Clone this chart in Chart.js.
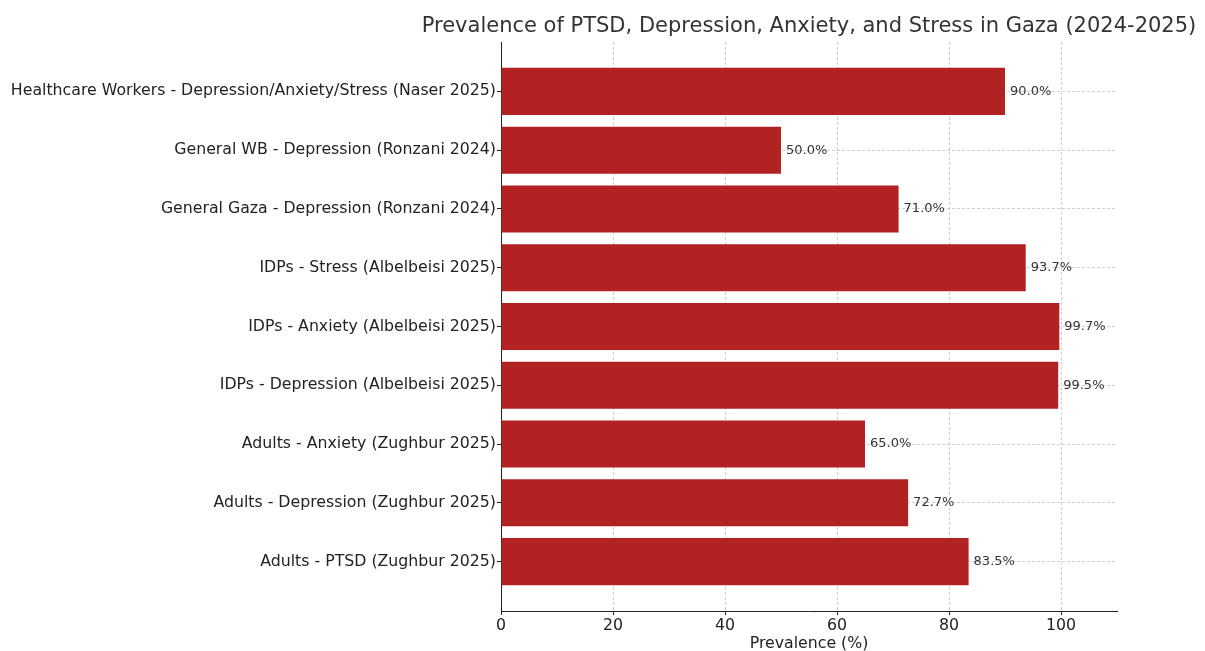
<!DOCTYPE html>
<html>
<head>
<meta charset="utf-8">
<script src="https://cdn.jsdelivr.net/npm/chart.js@4"></script>
<style>
  body { margin: 0; background: #fff; }
</style>
</head>
<body>
<canvas id="gazaChart" width="1205" height="651"></canvas>
<script>
// categories listed bottom to top (like matplotlib barh)
const categories = [
    'Adults - PTSD (Zughbur 2025)',
    'Adults - Depression (Zughbur 2025)',
    'Adults - Anxiety (Zughbur 2025)',
    'IDPs - Depression (Albelbeisi 2025)',
    'IDPs - Anxiety (Albelbeisi 2025)',
    'IDPs - Stress (Albelbeisi 2025)',
    'General Gaza - Depression (Ronzani 2024)',
    'General WB - Depression (Ronzani 2024)',
    'Healthcare Workers - Depression/Anxiety/Stress (Naser 2025)'
];
const prevalence = [83.5, 72.7, 65.0, 99.5, 99.7, 93.7, 71.0, 50.0, 90.0];
const xTicks = [0, 20, 40, 60, 80, 100];

const titleText = 'Prevalence of PTSD, Depression, Anxiety, and Stress in Gaza (2024-2025)';
const font = 'DejaVu Sans';

// title centred over the plot area, not the whole canvas
const titlePlugin = {
    id: 'plotTitle',
    afterDraw(chart) {
        const { ctx, chartArea } = chart;
        ctx.save();
        ctx.font = '21px "' + font + '"';
        ctx.fillStyle = '#333';
        ctx.textAlign = 'center';
        ctx.textBaseline = 'middle';
        ctx.fillText(titleText, (chartArea.left + chartArea.right) / 2, 27);
        ctx.restore();
    }
};

// value labels at the end of each bar
const valueLabels = {
    id: 'valueLabels',
    afterDatasetsDraw(chart) {
        const { ctx } = chart;
        const meta = chart.getDatasetMeta(0);
        ctx.save();
        ctx.font = '13px "' + font + '"';
        ctx.fillStyle = '#333';
        ctx.textAlign = 'left';
        ctx.textBaseline = 'middle';
        meta.data.forEach((bar, i) => {
            ctx.fillText(prevalence[i].toFixed(1) + '%', bar.x + 5, bar.y);
        });
        ctx.restore();
    }
};

const gridOpts = {
    color: 'rgba(176,176,176,0.6)',
    lineWidth: 1,
    offset: false,
    tickColor: '#222',
    tickLength: 4,
    tickWidth: 1
};

new Chart(document.getElementById('gazaChart'), {
    type: 'bar',
    data: {
        datasets: [{
            data: prevalence.map((v, i) => ({ x: v, y: i })),
            backgroundColor: '#b22222',
            borderWidth: 0,
            categoryPercentage: 1,
            barPercentage: 0.8
        }]
    },
    options: {
        indexAxis: 'y',
        responsive: false,
        animation: false,
        layout: { padding: { top: 42, right: 88, left: 0, bottom: 0 } },
        plugins: {
            legend: { display: false },
            tooltip: { enabled: false }
        },
        scales: {
            x: {
                type: 'linear',
                min: 0,
                max: 110,
                z: 1,
                afterBuildTicks: s => { s.ticks = xTicks.map(v => ({ value: v })); },
                afterFit: s => { s.height = 40; },
                grid: gridOpts,
                border: { color: '#222', width: 1, dash: [3, 2] },
                ticks: { color: '#222', padding: 1, maxRotation: 0, font: { family: font, size: 15.75 } },
                title: {
                    display: true,
                    text: 'Prevalence (%)',
                    color: '#222',
                    padding: { top: 0, bottom: 0 },
                    font: { family: font, size: 15.75, lineHeight: 0.9 }
                }
            },
            y: {
                type: 'linear',
                min: -0.84,
                max: 8.84,
                offset: false,
                z: 1,
                afterBuildTicks: s => { s.ticks = categories.map((c, i) => ({ value: i })); },
                afterFit: s => { s.width = 501; },
                grid: gridOpts,
                border: { color: '#222', width: 1, dash: [3, 2] },
                ticks: {
                    color: '#222',
                    padding: 1,
                    font: { family: font, size: 15.75 },
                    callback: v => categories[v]
                }
            }
        }
    },
    plugins: [titlePlugin, valueLabels]
});
</script>
</body>
</html>
